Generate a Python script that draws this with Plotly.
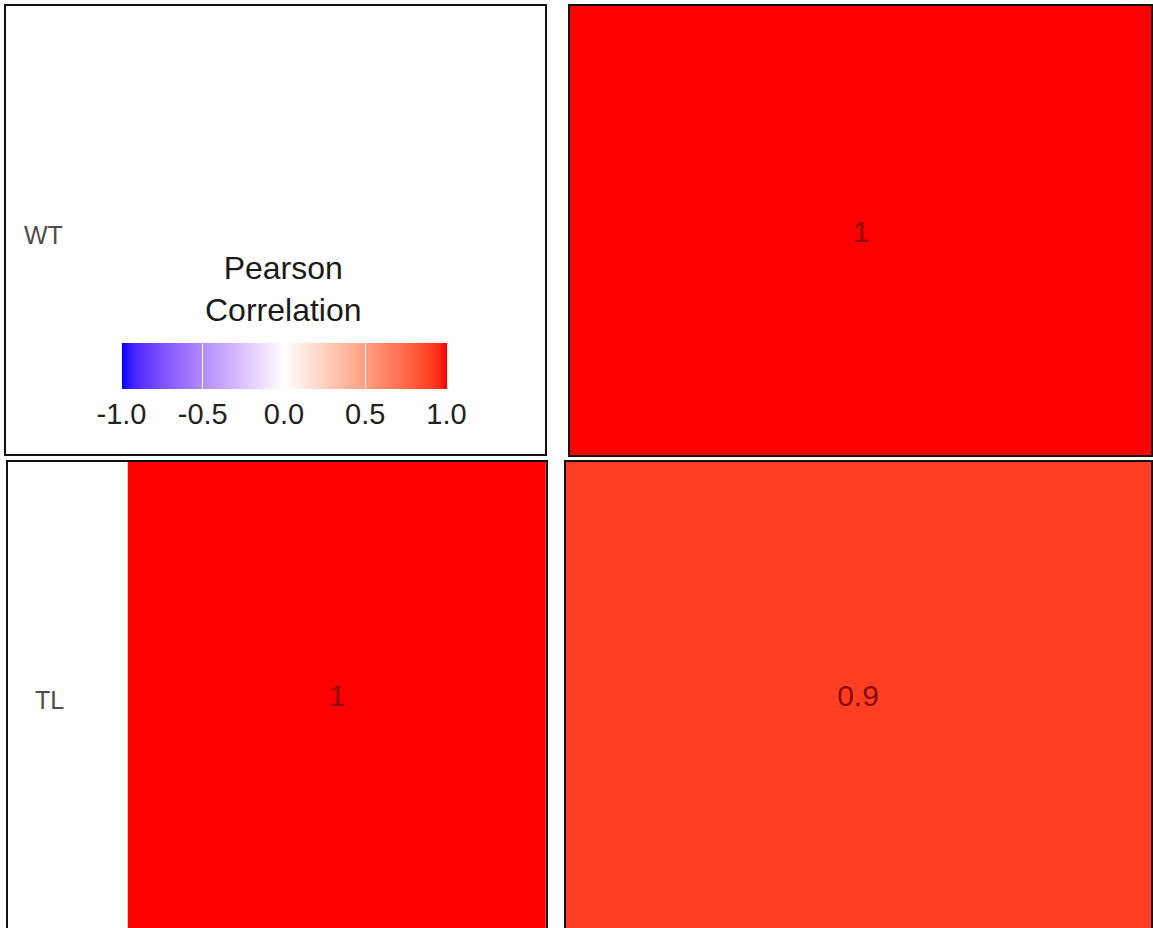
import numpy as np
import plotly.graph_objects as go

# Correlation tiles: rows/cols labelled by sample group
categories = ["WT", "TL"]
corr_wt_tl = 1.0      # WT row, second column
corr_tl_wt = 1.0      # TL row, first column
corr_tl_tl = 0.9      # TL row, second column
tile_labels = ["1", "1", "0.9"]

cbar_ticks = [-1.0, -0.5, 0.0, 0.5, 1.0]
cbar_ticktext = ["-1.0", "-0.5", "0.0", "0.5", "1.0"]
legend_title = ["Pearson", "Correlation"]

W, H = 1153, 928
FONT = "Liberation Sans, Arial, sans-serif"


# --- blue / white / red diverging scale interpolated in CIE Lab ---------
def _srgb_to_lin(c):
    c = c / 255.0
    return np.where(c <= 0.04045, c / 12.92, ((c + 0.055) / 1.055) ** 2.4)


def _lin_to_srgb(c):
    c = np.clip(c, 0, 1)
    return np.where(c <= 0.0031308, 12.92 * c, 1.055 * c ** (1 / 2.4) - 0.055) * 255


M = np.array([[0.4124, 0.3576, 0.1805],
              [0.2126, 0.7152, 0.0722],
              [0.0193, 0.1192, 0.9505]])
WHITE_XYZ = np.array([0.95047, 1.0, 1.08883])


def rgb_to_lab(rgb):
    xyz = M @ _srgb_to_lin(np.array(rgb, float)) / WHITE_XYZ
    f = np.where(xyz > 0.008856, np.cbrt(xyz), 7.787 * xyz + 16 / 116)
    return np.array([116 * f[1] - 16, 500 * (f[0] - f[1]), 200 * (f[1] - f[2])])


def lab_to_rgb(lab):
    fy = (lab[0] + 16) / 116
    f = np.array([fy + lab[1] / 500, fy, fy - lab[2] / 200])
    xyz = np.where(f ** 3 > 0.008856, f ** 3, (f - 16 / 116) / 7.787) * WHITE_XYZ
    return _lin_to_srgb(np.linalg.solve(M, xyz))


LOW, MID, HIGH = rgb_to_lab((0, 0, 255)), rgb_to_lab((255, 255, 255)), rgb_to_lab((255, 0, 0))
colorscale = []
for s in np.linspace(0, 1, 41):
    v = 2 * s - 1
    lab = MID + (LOW - MID) * (-v) if v < 0 else MID + (HIGH - MID) * v
    r, g, b = np.round(lab_to_rgb(lab)).astype(int)
    colorscale.append([float(s), f"rgb({r},{g},{b})"])


def dom_x(a, b):
    return [a / W, b / W]


def dom_y(top, bottom):
    return [1 - bottom / H, 1 - top / H]


fig = go.Figure()

# panel 1 (top-left) only carries the row label and the colour legend
fig.add_trace(go.Scatter(x=[], y=[], xaxis="x", yaxis="y", hoverinfo="skip"))

# panel 2 (top-right), 3 (bottom-left), 4 (bottom-right) hold tiles
tiles = [(2, corr_wt_tl, tile_labels[0]),
         (3, corr_tl_wt, tile_labels[1]),
         (4, corr_tl_tl, tile_labels[2])]
for idx, val, lab in tiles:
    fig.add_trace(go.Heatmap(
        x=[0, 1], y=[0, 1], z=[[val]], text=[[lab]],
        texttemplate="%{text}",
        textfont=dict(family=FONT, size=30, color="#8a0a0a"),
        coloraxis="coloraxis", hoverinfo="skip",
        xaxis=f"x{idx}", yaxis=f"y{idx}",
    ))

axis_common = dict(showgrid=False, zeroline=False, showticklabels=False,
                   ticks="", showline=True, mirror=True,
                   linecolor="#111111", linewidth=2, fixedrange=True)

panels = {
    1: (dom_x(6, 546), dom_y(6, 454), [0, 1]),
    2: (dom_x(571, 1153), dom_y(6, 455), [0, 1]),
    3: (dom_x(8, 547), dom_y(462, 928), [-0.2864, 1]),
    4: (dom_x(567, 1153), dom_y(462, 928), [0, 1]),
}
layout_axes = {}
for i, (dx, dy, xr) in panels.items():
    sfx = "" if i == 1 else str(i)
    layout_axes[f"xaxis{sfx}"] = dict(domain=dx, range=xr, anchor=f"y{sfx}", **axis_common)
    layout_axes[f"yaxis{sfx}"] = dict(domain=dy, range=[0, 1], anchor=f"x{sfx}", **axis_common)


def label(text, x, y, size, color):
    return dict(text=text, x=x / W, y=1 - y / H, xref="paper", yref="paper",
                xanchor="center", yanchor="middle", align="center", showarrow=False,
                font=dict(family=FONT, size=size, color=color))


annotations = [
    label(categories[0], 44, 235, 25, "#4d4d4d"),
    label(categories[1], 50, 700, 25, "#4d4d4d"),
    label("<br>".join(legend_title), 284, 289, 32, "#1a1a1a"),
]

fig.update_layout(
    width=W, height=H,
    margin=dict(l=0, r=0, t=0, b=0),
    paper_bgcolor="white", plot_bgcolor="white",
    showlegend=False,
    annotations=annotations,
    coloraxis=dict(
        colorscale=colorscale, cmin=-1, cmax=1,
        colorbar=dict(
            orientation="h", lenmode="pixels", len=325, thickness=46,
            x=284.5 / W, xanchor="center", y=1 - 343 / H, yanchor="top",
            xpad=0, ypad=0, outlinewidth=0,
            tickvals=cbar_ticks, ticktext=cbar_ticktext,
            ticks="inside", ticklen=46, tickwidth=1, tickcolor="white",
            tickfont=dict(family=FONT, size=29, color="#222222"),
        ),
    ),
    **layout_axes,
)

fig.write_html("out.html")
